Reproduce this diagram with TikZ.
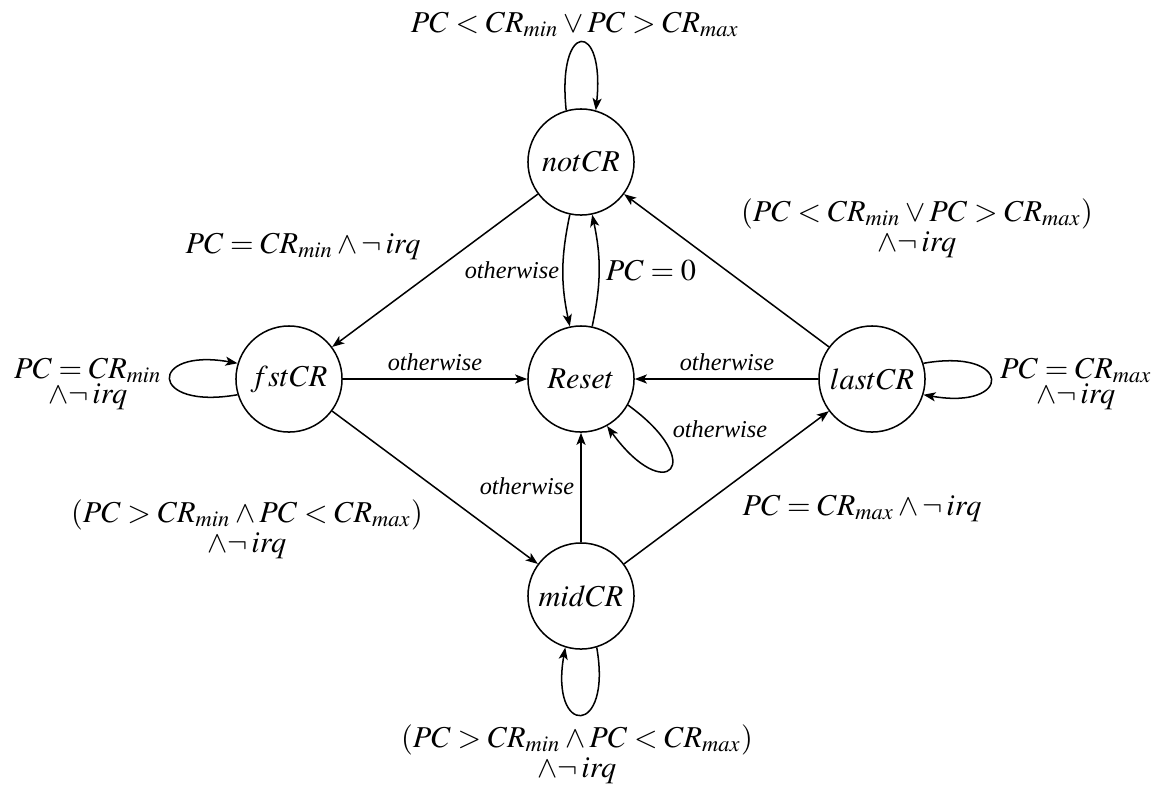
\documentclass[tikz,border=0pt]{standalone}
\usepackage{mathptmx}
\usepackage{fontspec}
\setmainfont{Liberation Serif}
\usetikzlibrary{arrows.meta}
\begin{document}
\lineskiplimit=-20pt
\begin{tikzpicture}[x=0.33pt,y=-0.33pt,
  state/.style={circle,draw,line width=0.5pt,minimum size=35pt,inner sep=0pt},
  trans/.style={line width=0.5pt,-{Stealth[length=4pt,width=3pt,inset=1pt]}},
  lbl/.style={inner sep=0pt,anchor=base},
  otw/.style={inner sep=0pt,anchor=base,font=\footnotesize\itshape},
  lbltwo/.style={inner sep=0pt,align=center}]
\useasboundingbox (0,0) rectangle (1153,790);

% states
\node[state] (notCR)  at (581,162) {$notCR$};
\node[state] (Reset)  at (581,379) {$Reset$};
\node[state] (fstCR)  at (289,379) {$fstCR$};
\node[state] (lastCR) at (872,379) {$lastCR$};
\node[state] (midCR)  at (581,596) {$midCR$};

% transitions
\draw[trans] (notCR.106) to[out=96,in=84,distance=30pt] (notCR.74);
\draw[trans] (notCR) -- (fstCR);
\draw[trans] (notCR) to[bend right=12] (Reset);
\draw[trans] (Reset) to[bend right=12] (notCR);
\draw[trans] (fstCR) -- (Reset);
\draw[trans] (lastCR) -- (Reset);
\draw[trans] (Reset.-29) to[out=-36,in=-54,distance=33pt] (Reset.-61);
\draw[trans] (midCR) -- (Reset);
\draw[trans] (fstCR) -- (midCR);
\draw[trans] (midCR) -- (lastCR);
\draw[trans] (lastCR) -- (notCR);
\draw[trans] (fstCR.197) to[out=190,in=170,distance=30pt] (fstCR.163);
\draw[trans] (lastCR.17) to[out=10,in=-10,distance=30pt] (lastCR.-17);
\draw[trans] (midCR.287) to[out=280,in=260,distance=30pt] (midCR.253);

% guards
\node[lbl] (lNotLoop) at (575,32) {$PC < CR_{min} \vee PC > CR_{max}$};
\node[lbl] (lNotFst) at (303,253) {$PC = CR_{min} \wedge \neg\, irq$};
\node[otw] (lNotReset) at (512,278) {otherwise};
\node[lbl] (lResetNot) at (651,280) {$PC = 0$};
\node[otw] (lFstReset) at (435,370) {otherwise};
\node[otw] (lLastReset) at (727,370) {otherwise};
\node[otw] (lResetLoop) at (720,437) {otherwise};
\node[otw] (lMidReset) at (527,494) {otherwise};
\node[lbl] (lMidLast) at (862,515) {$PC = CR_{max} \wedge \neg\, irq$};
\node[lbltwo] (lLastNot) at (917,228)
  {$(PC < CR_{min} \vee PC > CR_{max})$\\[-2pt] $\wedge\neg\, irq$};
\node[lbltwo] (lFstMid) at (247,529)
  {$(PC > CR_{min} \wedge PC < CR_{max})$\\[-2pt] $\wedge\neg\, irq$};
\node[lbltwo] (lMidLoop) at (577,754)
  {$(PC > CR_{min} \wedge PC < CR_{max})$\\[-2pt] $\wedge\neg\, irq$};
\node[lbltwo] (lFstLoop) at (88,384)
  {$PC = CR_{min}$\\[-3.5pt] $\wedge\neg\, irq$};
\node[lbltwo] (lLastLoop) at (1076,384)
  {$PC = CR_{max}$\\[-3.5pt] $\wedge\neg\, irq$};
\end{tikzpicture}
\end{document}
